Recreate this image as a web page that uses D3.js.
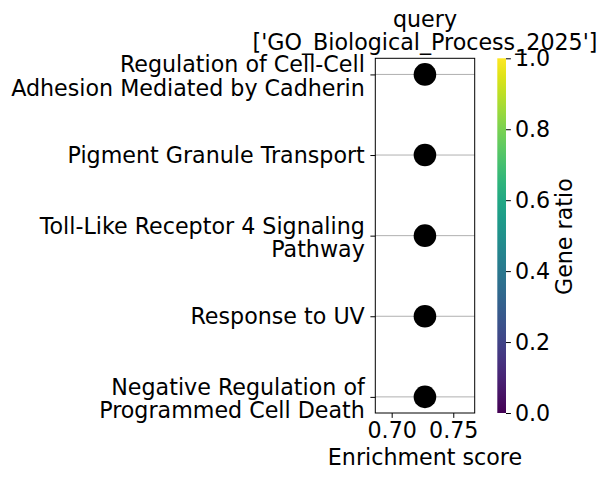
<!DOCTYPE html>
<html><head><meta charset="utf-8">
<script src="https://cdn.jsdelivr.net/npm/d3@7"></script>
<style>body{margin:0;background:#fff}svg{display:block}text{font-family:"DejaVu Sans",sans-serif;fill:#000}</style>
</head><body><svg id="c" width="607" height="478"></svg>
<script>
const terms = [
  ["Regulation of Cell-Cell","Adhesion Mediated by Cadherin"],
  ["Pigment Granule Transport"],
  ["Toll-Like Receptor 4 Signaling","Pathway"],
  ["Response to UV"],
  ["Negative Regulation of","Programmed Cell Death"]
];
const enrichment = [0.727, 0.727, 0.727, 0.727, 0.727];
const xTicks = [0.70, 0.75];
const cbTicks = [0.0, 0.2, 0.4, 0.6, 0.8, 1.0];
const titleLines = ["query", "['GO_Biological_Process_2025']"];

const svg = d3.select("#c");
const fs = 22.2;
const L = 375.3, R = 474.7, T = 58.3, B = 413;
const x = d3.scaleLinear().domain([0.6867, 0.7674]).range([L, R]);
const y = d3.scaleLinear().domain([-0.2, terms.length - 1 + 0.2]).range([T, B]);

// grid
svg.append("g").selectAll("line").data(terms).join("line")
  .attr("x1", L).attr("x2", R)
  .attr("y1", (d,i)=>y(i)).attr("y2", (d,i)=>y(i))
  .attr("stroke", "#b0b0b0").attr("stroke-width", 1);

// points
svg.append("g").selectAll("circle").data(enrichment).join("circle")
  .attr("cx", d=>x(d)).attr("cy", (d,i)=>y(i)).attr("r", 11.3).attr("fill", "#000");

// frame
svg.append("rect").attr("x", L).attr("y", T).attr("width", R-L).attr("height", B-T)
  .attr("fill", "none").attr("stroke", "#000").attr("stroke-width", 1);

// x axis
const xa = svg.append("g").attr("transform", `translate(0,${B})`)
  .call(d3.axisBottom(x).tickValues(xTicks).tickFormat(d3.format(".2f")).tickSizeOuter(0).tickSize(4.9).tickPadding(4));
xa.select(".domain").remove();
xa.selectAll("text").attr("font-size", fs).attr("font-family", "DejaVu Sans").attr("fill", "#000");
svg.append("text").attr("x", (L+R)/2).attr("y", 465).attr("text-anchor", "middle").attr("font-size", fs).text("Enrichment score");

// y axis
const ya = svg.append("g").attr("transform", `translate(${L},0)`)
  .call(d3.axisLeft(y).tickValues(d3.range(terms.length)).tickFormat("").tickSizeOuter(0).tickSize(4.9));
ya.select(".domain").remove();
const yl = svg.append("g").selectAll("text").data(terms).join("text")
  .attr("text-anchor", "end").attr("font-size", fs)
  .attr("transform", (d,i)=>`translate(${L-10.5},${y(i) + (d.length > 1 ? 2 : 0)})`);
yl.each(function(d){
  const t = d3.select(this);
  const n = d.length, lh = 23.5;
  d.forEach((s,k)=>{
    t.append("tspan").attr("x", 0).attr("y", (k - (n-1)/2)*lh).attr("dy", "0.35em").text(s);
  });
});

// title
svg.append("g").selectAll("text").data(titleLines).join("text")
  .attr("x", (L+R)/2).attr("y", (d,i)=>26.5 + i*23.5).attr("text-anchor", "middle").attr("font-size", fs).text(d=>d);

// colorbar
const cbL = 497.3, cbW = 8.7;
const defs = svg.append("defs");
const grad = defs.append("linearGradient").attr("id", "vg").attr("x1", 0).attr("x2", 0).attr("y1", 1).attr("y2", 0);
d3.range(0, 1.0001, 0.05).forEach(t => grad.append("stop").attr("offset", t).attr("stop-color", d3.interpolateViridis(t)));
svg.append("rect").attr("x", cbL).attr("y", T).attr("width", cbW).attr("height", B-T).attr("fill", "url(#vg)");
const cy = d3.scaleLinear().domain([0, 1]).range([B, T]);
const ca = svg.append("g").attr("transform", `translate(${cbL+cbW},0)`)
  .call(d3.axisRight(cy).tickValues(cbTicks).tickFormat(d3.format(".1f")).tickSize(4.9).tickPadding(4));
ca.select(".domain").remove();
ca.selectAll("text").attr("font-size", fs).attr("font-family", "DejaVu Sans").attr("fill", "#000");
svg.append("text").attr("transform", `translate(572,${(T+B)/2 + 1}) rotate(-90)`).attr("text-anchor", "middle").attr("font-size", fs).text("Gene ratio");
</script></body></html>
